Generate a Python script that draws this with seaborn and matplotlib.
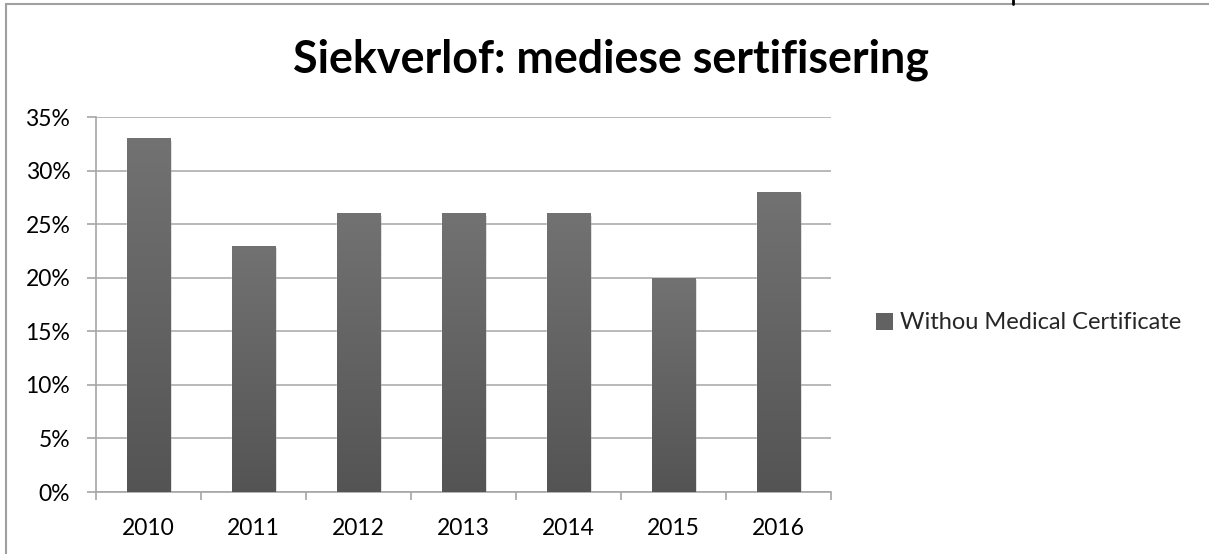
import numpy as np
import pandas as pd
import matplotlib
matplotlib.use("Agg")
import matplotlib.pyplot as plt
import matplotlib.ticker as mticker
import matplotlib.patheffects as pe
from matplotlib.patches import Patch
import seaborn as sns

years  = ["2010", "2011", "2012", "2013", "2014", "2015", "2016"]
values = [0.33, 0.23, 0.26, 0.26, 0.26, 0.20, 0.28]
series = "Withou Medical Certificate"
title  = "Siekverlof: mediese sertifisering"

sns.set_theme(style="white")
plt.rcParams["font.family"] = ["Lato", "DejaVu Sans"]

df = pd.DataFrame({"year": years, "share": values})

fig = plt.figure(figsize=(12.09, 5.54), dpi=100)
ax = fig.add_axes([0.0794, 0.1119, 0.6079, 0.6769])

sns.barplot(data=df, x="year", y="share", color="#626262", width=0.41,
            saturation=1, ax=ax, zorder=3)

# Excel style gradient + soft shadow on every bar
grad = np.linspace(0, 1, 256).reshape(-1, 1)
cmap = matplotlib.colors.LinearSegmentedColormap.from_list("g", ["#545454", "#727272"])
for bar in ax.patches:
    x0, y0 = bar.get_x(), bar.get_y()
    w, h = bar.get_width(), bar.get_height()
    bar.set_path_effects([pe.SimplePatchShadow(offset=(1.5, -1.5), shadow_rgbFace="#000000", alpha=0.15),
                          pe.Normal()])
    im = ax.imshow(grad, cmap=cmap, origin="lower", aspect="auto",
                   extent=[x0, x0 + w, y0, y0 + h], zorder=4)
    im.set_clip_path(bar)

ax.set_xlim(-0.5, len(years) - 0.5)
ax.set_ylim(0, 0.35)
ax.yaxis.set_major_locator(mticker.MultipleLocator(0.05))
ax.yaxis.set_major_formatter(mticker.PercentFormatter(xmax=1, decimals=0))
ax.grid(axis="y", color="#b3b3b3", linewidth=1.3, zorder=0)
ax.set_axisbelow(True)
ax.set_xlabel("")
ax.set_ylabel("")

for side in ["top", "right"]:
    ax.spines[side].set_visible(False)
for side in ["left", "bottom"]:
    ax.spines[side].set_color("#a6a6a6")
    ax.spines[side].set_linewidth(1.2)

ax.tick_params(axis="y", which="major", length=6.5, color="#a6a6a6", width=1.2,
               left=True, labelsize=16.5, pad=12)
ax.set_xticks(np.arange(len(years)))
ax.set_xticks(np.arange(len(years) + 1) - 0.5, minor=True)
ax.tick_params(axis="x", which="major", length=0, labelsize=16.5, pad=18.5)
ax.tick_params(axis="x", which="minor", length=6, color="#a6a6a6", width=1.2, bottom=True)
for lbl in ax.get_xticklabels() + ax.get_yticklabels():
    lbl.set_color("black")

fig.text(0.505, 0.870, title, ha="center", va="baseline",
         fontsize=32.3, fontweight="bold", color="black")

handle = Patch(facecolor="#626262", edgecolor="none", label=series)
fig.legend(handles=[handle], loc="center left", bbox_to_anchor=(0.707, 0.417),
           frameon=False, fontsize=17, handlelength=0.72, handleheight=0.72,
           handletextpad=0.3)

# chart frame and the little page mark at the top
fig.add_artist(plt.Line2D([0.005, 0.005], [0, 0.993], color="#a0a0a0", linewidth=1.5))
fig.add_artist(plt.Line2D([0.005, 1.0], [0.993, 0.993], color="#a0a0a0", linewidth=1.5))
fig.add_artist(plt.Line2D([0.838, 0.838], [0.993, 1.0], color="black", linewidth=2))

fig.savefig("out.png", dpi=100)
